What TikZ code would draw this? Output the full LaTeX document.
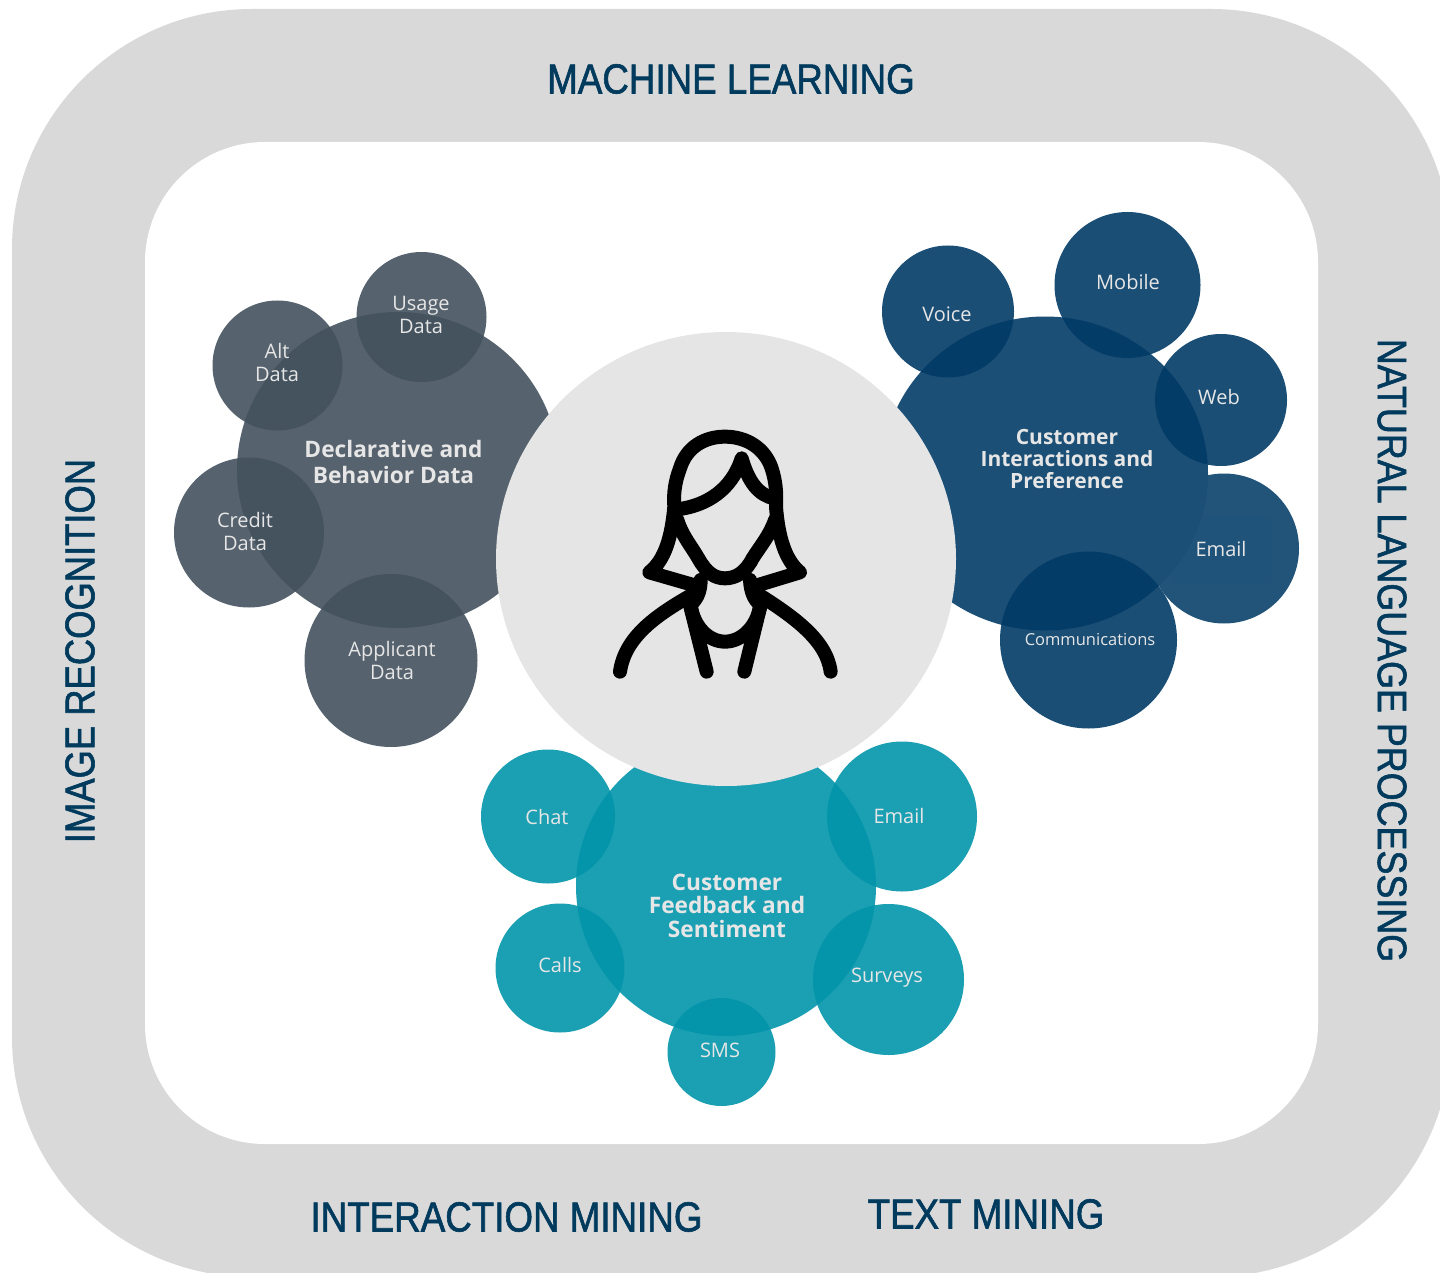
\documentclass[tikz,border=0pt]{standalone}
\usepackage{fontspec}
\usetikzlibrary{shapes.geometric}
\setmainfont{Open Sans}
\newfontfamily\titlefont[FakeStretch=0.875,FakeBold=1.4]{Liberation Sans}
\definecolor{ringgray}{HTML}{D9D9D9}
\definecolor{hubgray}{HTML}{E5E5E5}
\definecolor{slate}{RGB}{68,82,94}
\definecolor{navy}{RGB}{2,59,103}
\definecolor{teal2}{RGB}{3,149,171}
\definecolor{titleblue}{HTML}{003A5D}
\definecolor{labelgray}{HTML}{E6E6E6}
\tikzset{
  x=1pt,y=-1pt,
  bubble/.style={circle,inner sep=0pt,minimum size=2*#1,fill opacity=0.9,text opacity=1},
  slatebub/.style={fill=slate},
  navybub/.style={fill=navy},
  tealbub/.style={fill=teal2},
  itemtext/.style={text=labelgray,font=\fontsize{20}{23}\selectfont,align=center},
  headtext/.style={text=labelgray,font=\fontsize{22.7}{23.5}\selectfont\bfseries,align=center},
  titletext/.style={text=titleblue,font=\fontsize{42}{44}\selectfont\titlefont},
  iconline/.style={draw=black,line width=14pt,line cap=round,line join=round,x=0.3333pt,y=-0.3333pt,xshift=590pt,yshift=-410pt},
}
\begin{document}
\begin{tikzpicture}
\useasboundingbox (0,0) rectangle (1440,1273);
\clip (0,0) rectangle (1440,1273);
\fill[white] (0,0) rectangle (1440,1273);
\fill[ringgray,rounded corners=240pt] (12,9) rectangle (1451,1277);
\fill[white,rounded corners=120pt] (145,142) rectangle (1318,1144);
% slate group
\node[ellipse,inner sep=0pt,minimum width=322pt,minimum height=316pt,fill=slate,fill opacity=0.9] (declbig) at (398,470) {};
\node[bubble=65pt,slatebub] (usage) at (421.5,317) {};
\node[bubble=65pt,slatebub] (alt) at (277.5,365.5) {};
\node[bubble=75pt,slatebub] (credit) at (249,532.5) {};
\node[bubble=86.5pt,slatebub] (applicant) at (391,660.5) {};
% navy group
\node[circle,inner sep=0pt,minimum size=150pt,fill=navy,fill opacity=0.87] (email1) at (1224,548.5) {};
\fill[navy,fill opacity=0.04] (1170,517) rectangle (1271,583);
\node[ellipse,inner sep=0pt,minimum width=326pt,minimum height=314pt,fill={rgb,255:red,27;green,79;blue,118}] (custbig) at (1045,473.5) {};
\node[bubble=66pt,navybub] (voice) at (948,311.5) {};
\node[bubble=73pt,navybub] (mobile) at (1127.5,285) {};
\node[bubble=66pt,navybub] (web) at (1221,400) {};
\node[bubble=88.5pt,navybub] (comm) at (1088.5,640) {};
% teal group
\node[bubble=150pt,tealbub] (feedbig) at (726,886) {};
\node[bubble=67pt,tealbub] (chat) at (548,816.5) {};
\node[bubble=75pt,tealbub] (email2) at (902,816.5) {};
\node[bubble=64.5pt,tealbub] (calls) at (560,968) {};
\node[bubble=75.5pt,tealbub] (surveys) at (888.5,979.5) {};
\node[bubble=54pt,tealbub] (sms) at (721.5,1052) {};
% hub
\node[ellipse,inner sep=0pt,minimum width=460pt,minimum height=454pt,fill=hubgray] (hub) at (726,559) {};
% icon
\draw[iconline] (270,297) .. controls (350,285) and (425,240) .. (455,145)
   .. controls (475,215) and (505,255) .. (552,265);
\draw[iconline] (310,525) -- (178,487) .. controls (225,450) and (245,380) .. (253,290)
   .. controls (250,250) and (255,215) .. (270,175)
   .. controls (290,110) and (345,80) .. (405,80)
   .. controls (470,80) and (525,115) .. (545,175)
   .. controls (558,215) and (560,250) .. (558,290)
   .. controls (565,380) and (585,450) .. (630,487) -- (505,525);
\draw[iconline] (262,330) .. controls (275,375) and (305,410) .. (325,445)
   .. controls (350,490) and (375,505) .. (405,505)
   .. controls (435,505) and (465,490) .. (488,445)
   .. controls (510,410) and (540,375) .. (555,330);
\draw[iconline] (332,510) .. controls (332,545) and (320,570) .. (300,585) -- (350,785);
\draw[iconline] (480,510) .. controls (482,545) and (492,570) .. (512,585) -- (463,785);
\draw[iconline] (315,530) -- (305,580);
\draw[iconline] (495,530) -- (507,580);
\draw[iconline] (303,590) .. controls (312,650) and (355,695) .. (405,695)
   .. controls (455,695) and (500,650) .. (510,590);
\draw[iconline] (305,555) .. controls (200,615) and (105,680) .. (90,785);
\draw[iconline] (508,555) .. controls (610,620) and (710,690) .. (722,785);
% labels
\node[headtext,font=\fontsize{22.7}{26}\selectfont\bfseries] (declt) at (393.5,462) {Declarative and\\Behavior Data};
\node[itemtext] (usaget) at (421,315) {Usage\\Data};
\node[itemtext] (altt) at (277,362.5) {Alt\\Data};
\node[itemtext] (creditt) at (245,531.5) {Credit\\Data};
\node[itemtext] (applicantt) at (392,660) {Applicant\\Data};
\node[headtext,font=\fontsize{21}{22}\selectfont\bfseries] (custt) at (1067,459) {Customer\\Interactions and\\Preference};
\node[itemtext] (voicet) at (947,314.5) {Voice};
\node[itemtext] (mobilet) at (1128,282.5) {Mobile};
\node[itemtext] (webt) at (1219,396.5) {Web};
\node[itemtext] (email1t) at (1221,548.5) {Email};
\node[itemtext,font=\fontsize{16.5}{20}\selectfont] (commt) at (1090,640) {Communications};
\node[headtext] (feedt) at (727,905.5) {Customer\\Feedback and\\Sentiment};
\node[itemtext] (chatt) at (547,817) {Chat};
\node[itemtext] (email2t) at (899,815.5) {Email};
\node[itemtext] (callst) at (560,964.5) {Calls};
\node[itemtext] (surveyst) at (887,978) {Surveys};
\node[itemtext] (smst) at (720,1050) {SMS};
% titles
\node[titletext] (ml) at (731,79) {MACHINE LEARNING};
\node[titletext,font=\fontsize{41}{44}\selectfont\titlefont,rotate=-90] (nlp) at (1392,650.5) {NATURAL LANGUAGE PROCESSING};
\node[titletext,font=\fontsize{41.6}{44}\selectfont\titlefont,rotate=90] (ir) at (80,651) {IMAGE RECOGNITION};
\node[titletext] (im) at (506.5,1217) {INTERACTION MINING};
\node[titletext] (tm) at (986,1214) {TEXT MINING};
\end{tikzpicture}
\end{document}
